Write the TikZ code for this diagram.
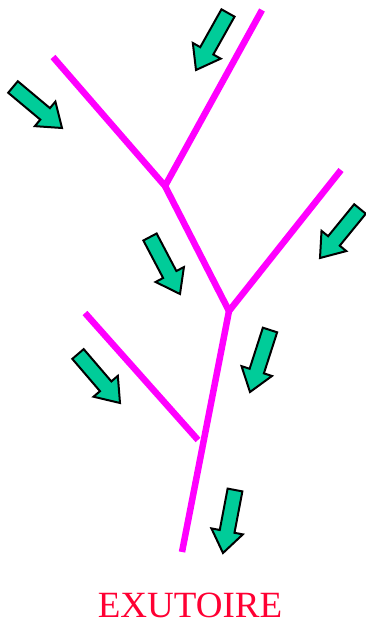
\documentclass[tikz,border=0pt]{standalone}
\usepackage{fontspec}
\setmainfont{Liberation Serif}
\usetikzlibrary{calc}
\definecolor{river}{RGB}{255,0,255}
\definecolor{flowgreen}{RGB}{0,204,153}
\definecolor{outred}{RGB}{255,0,51}
\tikzset{
  riverline/.style={draw=river, line width=6.5pt},
  flowarrow/.style={draw=black, fill=flowgreen, line width=2pt, line join=miter},
}
\newcommand\flowarr[2]{%
  \filldraw[flowarrow]
    ($(#1)!7.5pt!90:(#2)$) --
    ($($(#2)!22pt!(#1)$)!7.5pt!-90:(#1)$) --
    ($($(#2)!22pt!(#1)$)!16pt!-90:(#1)$) --
    (#2) --
    ($($(#2)!22pt!(#1)$)!16pt!90:(#1)$) --
    ($($(#2)!22pt!(#1)$)!7.5pt!90:(#1)$) --
    ($(#1)!7.5pt!-90:(#2)$) -- cycle;}
\begin{document}
\begin{tikzpicture}[x=1pt,y=-1pt]
\useasboundingbox (0,0) rectangle (366,628);
% river network
\coordinate (ul) at (53,57);
\coordinate (top) at (262,10);
\coordinate (j1) at (165,186);
\coordinate (rt) at (341,170);
\coordinate (j2) at (229,311);
\coordinate (out) at (182,552);
\coordinate (ll) at (85,313);
\coordinate (lle) at (198,440);
\draw[riverline] (ul) -- (j1) -- (top);
\draw[riverline] (j1) -- (j2) -- (rt);
\draw[riverline] (j2) -- (out);
\draw[riverline] (ll) -- (lle);
% flow arrows
\coordinate (a1t) at (228,13);  \coordinate (a1h) at (196,70);
\coordinate (a2t) at (13,87);   \coordinate (a2h) at (62,128);
\coordinate (a3t) at (150,237); \coordinate (a3h) at (180,294);
\coordinate (a4t) at (360,209); \coordinate (a4h) at (320,258);
\coordinate (a5t) at (270,330); \coordinate (a5h) at (250,392);
\coordinate (a6t) at (78,354);  \coordinate (a6h) at (120,403);
\coordinate (a7t) at (235,490); \coordinate (a7h) at (223,553);
\flowarr{a1t}{a1h}
\flowarr{a2t}{a2h}
\flowarr{a3t}{a3h}
\flowarr{a4t}{a4h}
\flowarr{a5t}{a5h}
\flowarr{a6t}{a6h}
\flowarr{a7t}{a7h}
% label
\node[anchor=base, text=outred, font=\fontsize{37}{40}\selectfont, inner sep=0pt] (lbl) at (190,617) {EXUTOIRE};
\end{tikzpicture}
\end{document}
